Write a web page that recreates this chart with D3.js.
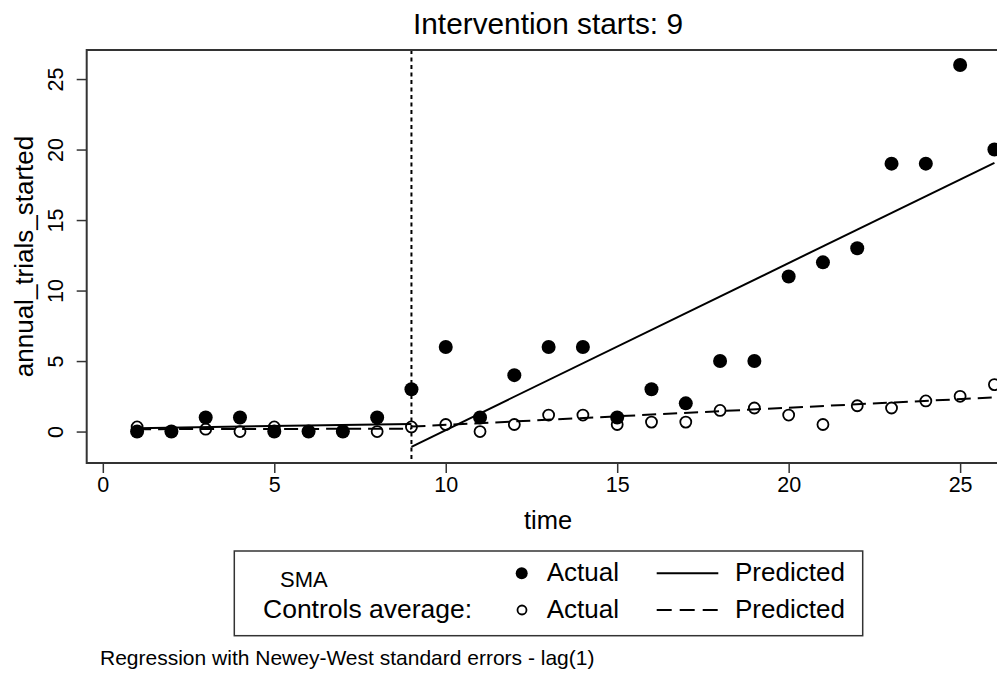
<!DOCTYPE html>
<html>
<head>
<meta charset="utf-8">
<script src="https://cdn.jsdelivr.net/npm/d3@7"></script>
<style>
  body { margin: 0; background: #fff; }
  svg { display: block; font-family: "Liberation Sans", Arial, sans-serif; }
</style>
</head>
<body>
<svg id="chart" width="997" height="673"></svg>
<script>
// Data (interrupted time series, intervention at t = 9)
const time = [1, 2, 3, 4, 5, 6, 7, 8, 9, 10, 11, 12, 13, 14, 15, 16, 17, 18, 19, 20, 21, 22, 23, 24, 25, 26];
const smaActual = [0, 0, 1, 1, 0, 0, 0, 1, 3, 6, 1, 4, 6, 6, 1, 3, 2, 5, 5, 11, 12, 13, 19, 19, 26, 20];
const controlsActual = [0.33, 0, 0.17, 0, 0.33, 0, 0, 0, 0.33, 0.5, 0, 0.5, 1.17, 1.17, 0.5, 0.67, 0.67, 1.5, 1.67, 1.17, 0.5, 1.83, 1.67, 2.17, 2.5, 3.33];

// Predicted segments: [time, value] end points
const smaPredPre = [[1, 0.24], [9, 0.54]];
const smaPredPost = [[9, -1.08], [26, 19.06]];
const ctrlPredPre = [[1, 0.17], [9, 0.2]];
const ctrlPredPost = [[9, 0.35], [26, 2.42]];

const interventionTime = 9;
const xTicks = [0, 5, 10, 15, 20, 25];
const yTicks = [0, 5, 10, 15, 20, 25];

const titleText = "Intervention starts: 9";
const xTitle = "time";
const yTitle = "annual_trials_started";
const noteText = "Regression with Newey-West standard errors - lag(1)";

const svg = d3.select("#chart");
const ink = "#000";
const frame = "#333";

// Plot region
const plotL = 86.7, plotR = 1009.5, plotT = 50, plotB = 463;

const xScale = d3.scaleLinear().domain([-0.47, 26.44]).range([plotL, plotR]);
const yScale = d3.scaleLinear().domain([-2.23, 27.06]).range([plotB, plotT]);

// Title
svg.append("text")
  .attr("x", 548)
  .attr("y", 34.3)
  .attr("text-anchor", "middle")
  .attr("font-size", "29.8px")
  .attr("fill", ink)
  .text(titleText);

// Axes
const yAxis = svg.append("g")
  .attr("transform", `translate(${plotL},0)`)
  .call(d3.axisLeft(yScale).tickValues(yTicks).tickSize(10).tickFormat(d3.format("d")));
yAxis.select(".domain").remove();
yAxis.selectAll(".tick line").attr("stroke", frame).attr("stroke-width", 1.5);
yAxis.selectAll(".tick text")
  .attr("transform", "rotate(-90)")
  .attr("x", 0)
  .attr("y", -23.7)
  .attr("dy", 0)
  .attr("text-anchor", "middle")
  .attr("font-size", "21.5px")
  .attr("font-family", "Liberation Sans, Arial, sans-serif")
  .attr("fill", ink);

const xAxis = svg.append("g")
  .attr("transform", `translate(0,${plotB})`)
  .call(d3.axisBottom(xScale).tickValues(xTicks).tickSize(10).tickFormat(d3.format("d")));
xAxis.select(".domain").remove();
xAxis.selectAll(".tick line").attr("stroke", frame).attr("stroke-width", 1.5);
xAxis.selectAll(".tick text")
  .attr("y", 28.8)
  .attr("dy", 0)
  .attr("font-size", "21.5px")
  .attr("font-family", "Liberation Sans, Arial, sans-serif")
  .attr("fill", ink);

// Axis titles
svg.append("text")
  .attr("x", (plotL + plotR) / 2)
  .attr("y", 529.3)
  .attr("text-anchor", "middle")
  .attr("font-size", "25.5px")
  .attr("fill", ink)
  .text(xTitle);

svg.append("text")
  .attr("transform", `translate(33.3,${(plotT + plotB) / 2}) rotate(-90)`)
  .attr("text-anchor", "middle")
  .attr("font-size", "26px")
  .attr("fill", ink)
  .text(yTitle);

// Intervention line
svg.append("line")
  .attr("x1", xScale(interventionTime))
  .attr("x2", xScale(interventionTime))
  .attr("y1", plotT)
  .attr("y2", plotB)
  .attr("stroke", ink)
  .attr("stroke-width", 2)
  .attr("stroke-dasharray", "4,3.5");

const points = time.map((t, i) => ({ t, sma: smaActual[i], ctrl: controlsActual[i] }));

// Controls average (hollow), drawn under SMA
svg.append("g")
  .selectAll("circle")
  .data(points)
  .join("circle")
  .attr("cx", d => xScale(d.t))
  .attr("cy", d => yScale(d.ctrl))
  .attr("r", 5.5)
  .attr("fill", "none")
  .attr("stroke", ink)
  .attr("stroke-width", 1.8);

// SMA actual (filled)
svg.append("g")
  .selectAll("circle")
  .data(points)
  .join("circle")
  .attr("cx", d => xScale(d.t))
  .attr("cy", d => yScale(d.sma))
  .attr("r", 7)
  .attr("fill", ink);

// Predicted lines
const line = d3.line()
  .x(d => xScale(d[0]))
  .y(d => yScale(d[1]));

[smaPredPre, smaPredPost].forEach(seg => {
  svg.append("path")
    .datum(seg)
    .attr("d", line)
    .attr("fill", "none")
    .attr("stroke", ink)
    .attr("stroke-width", 2);
});

[ctrlPredPre, ctrlPredPost].forEach(seg => {
  svg.append("path")
    .datum(seg)
    .attr("d", line)
    .attr("fill", "none")
    .attr("stroke", ink)
    .attr("stroke-width", 2)
    .attr("stroke-dasharray", "14,7");
});

// Plot frame
svg.append("rect")
  .attr("x", plotL)
  .attr("y", plotT)
  .attr("width", plotR - plotL)
  .attr("height", plotB - plotT)
  .attr("fill", "none")
  .attr("stroke", frame)
  .attr("stroke-width", 2);

// Legend
const legend = svg.append("g");
legend.append("rect")
  .attr("x", 234.3)
  .attr("y", 551)
  .attr("width", 628.4)
  .attr("height", 84.7)
  .attr("fill", "none")
  .attr("stroke", frame)
  .attr("stroke-width", 1.5);

legend.append("text")
  .attr("x", 280)
  .attr("y", 587.3)
  .attr("font-size", "22px")
  .attr("fill", ink)
  .text("SMA");

legend.append("text")
  .attr("x", 263)
  .attr("y", 617.5)
  .attr("font-size", "26.5px")
  .attr("fill", ink)
  .text("Controls average:");

legend.append("circle")
  .attr("cx", 521.7).attr("cy", 573.3).attr("r", 6)
  .attr("fill", ink);
legend.append("circle")
  .attr("cx", 522).attr("cy", 610).attr("r", 4.5)
  .attr("fill", "none").attr("stroke", ink).attr("stroke-width", 1.8);

[581, 618].forEach(yb => {
  legend.append("text")
    .attr("x", 546.7).attr("y", yb)
    .attr("font-size", "26px").attr("fill", ink)
    .text("Actual");
  legend.append("text")
    .attr("x", 735).attr("y", yb)
    .attr("font-size", "26px").attr("fill", ink)
    .text("Predicted");
});

legend.append("line")
  .attr("x1", 656.7).attr("x2", 718.3).attr("y1", 573.3).attr("y2", 573.3)
  .attr("stroke", ink).attr("stroke-width", 2);
legend.append("line")
  .attr("x1", 656.7).attr("x2", 718.3).attr("y1", 610).attr("y2", 610)
  .attr("stroke", ink).attr("stroke-width", 2)
  .attr("stroke-dasharray", "15,8");

// Note
svg.append("text")
  .attr("x", 100)
  .attr("y", 665)
  .attr("font-size", "21px")
  .attr("fill", ink)
  .text(noteText);
</script>
</body>
</html>
